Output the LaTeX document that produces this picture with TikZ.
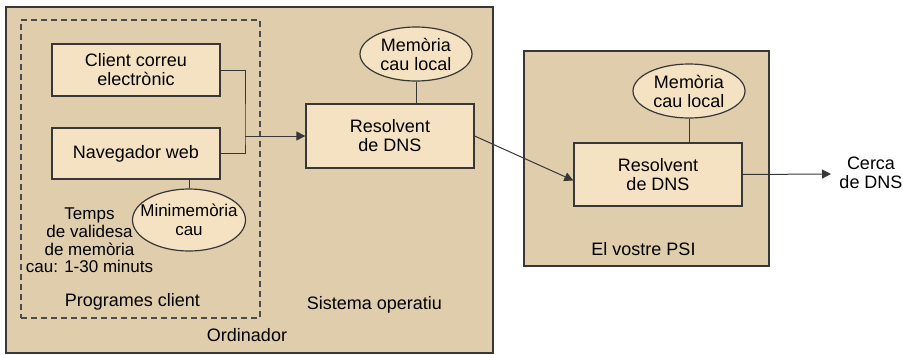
\documentclass[tikz,border=0pt]{standalone}
\usepackage{fontspec}
\setmainfont{Liberation Sans}
\usetikzlibrary{arrows.meta,shapes.geometric}

\definecolor{tanbg}{RGB}{224,205,172}
\definecolor{boxfill}{RGB}{245,226,194}
\definecolor{edge}{RGB}{55,55,55}

\tikzset{
  region/.style={draw=edge, line width=1.3pt, fill=tanbg, rectangle, inner sep=0pt},
  procbox/.style={draw=edge, line width=1.3pt, fill=boxfill, rectangle, inner sep=0pt,
    minimum width=168pt, align=center, font=\fontsize{18}{19}\selectfont},
  % ellipse of fixed size; its text is set as a centred label
  cachebox/.style={draw=edge, line width=1.2pt, fill=boxfill, ellipse, inner sep=0pt,
    label={[inner sep=0pt, align=center, font=\fontsize{18}{19}\selectfont]center:#1}},
  smallcache/.style={draw=edge, line width=1.2pt, fill=boxfill, ellipse, inner sep=0pt,
    label={[inner sep=0pt, align=center, font=\fontsize{17}{19}\selectfont]center:#1}},
  txt/.style={inner sep=0pt, align=center, font=\fontsize{18}{19}\selectfont},
  link/.style={draw=edge, line width=1pt},
  flow/.style={link, -{Triangle[length=9pt,width=9pt]}}
}

\begin{document}
\begin{tikzpicture}[x=1pt, y=-1pt]
  \useasboundingbox (0,0) rectangle (903,354);

  % containers
  \node[region, minimum width=487pt, minimum height=346pt] (ordinador) at (249.5,180) {};
  \node[draw=edge!90, line width=1.1pt, dash pattern=on 6pt off 4pt, rectangle, inner sep=0pt,
        minimum width=239pt, minimum height=298pt] (programes) at (140.5,169) {};
  \node[region, minimum width=245pt, minimum height=215pt] (psi) at (646.5,158.5) {};

  % client programs
  \node[procbox, minimum height=52pt] (client) at (136,70) {Client correu\\electrònic};
  \node[procbox, minimum height=51pt] (nav) at (136,153.5) {Navegador web};
  \node[smallcache={Minimemòria\\cau}, minimum width=113pt, minimum height=62pt] (mini) at (189,220) {};

  % operating system resolver
  \node[procbox, minimum height=64pt] (res1) at (390,136) {Resolvent\\de DNS};
  \node[cachebox={Memòria\\cau local}, minimum width=112pt, minimum height=54pt] (mem1) at (416,54) {};

  % ISP resolver
  \node[procbox, minimum height=63pt] (res2) at (658,174.5) {Resolvent\\de DNS};
  \node[cachebox={Memòria\\cau local}, minimum width=112pt, minimum height=54pt] (mem2) at (689,91) {};

  % texts
  \node[txt, font=\fontsize{17}{17.6}\selectfont] (temps) at (89.5,240.5)
    {Temps\\de validesa\\de memòria\\cau: 1-30 minuts};
  \node[txt] (tprog) at (132.5,302) {Programes client};
  \node[txt] (tso) at (374.5,305) {Sistema operatiu};
  \node[txt] (tord) at (247,335) {Ordinador};
  \node[txt] (tpsi) at (643.5,249) {El vostre PSI};
  \node[txt] (cerca) at (871,172.5) {Cerca\\de DNS};

  % connectors
  \coordinate (j) at (245,136);
  \coordinate (tip) at (831,174);
  \draw[link] (client.east) -| (j) |- (nav.east);
  \draw[flow] (j) -- (res1.west);
  \draw[link] (mini.north) -- (mini.north |- nav.south);
  \draw[link] (mem1.south) -- (mem1.south |- res1.north);
  \draw[link] (mem2.south) -- (mem2.south |- res2.north);
  \draw[flow] (res1.east) -- ([yshift=-6pt]res2.west);
  \draw[flow] (res2.east) -- (tip);
\end{tikzpicture}
\end{document}
